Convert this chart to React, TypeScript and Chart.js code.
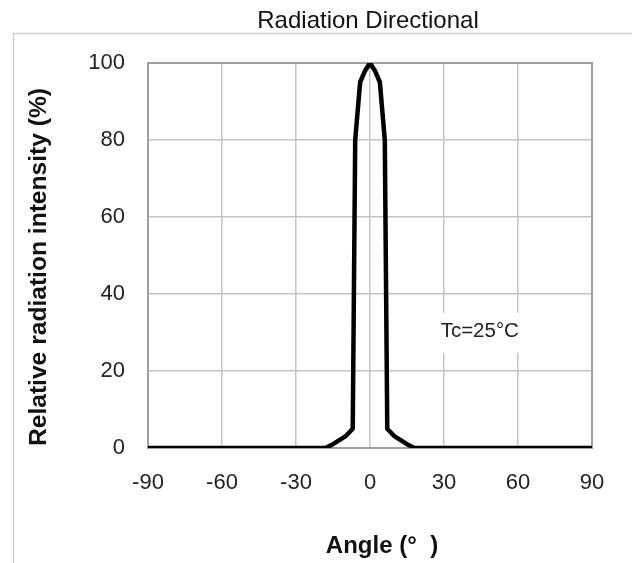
import React, { useEffect, useRef } from "react";
import { Chart, registerables } from "chart.js";

Chart.register(...registerables);

const angles = [-90, -18, -15, -10, -7, -6, -4, -2, 0, 2, 4, 6, 7, 10, 15, 18, 90];
const intensity = [0, 0, 1, 3, 5, 80, 95, 98, 100, 98, 95, 80, 5, 3, 1, 0, 0];
const xTicks = [-90, -60, -30, 0, 30, 60, 90];
const yTicks = [0, 20, 40, 60, 80, 100];
const chartTitle = "Radiation Directional";
const xTitle = "Angle (°  )";
const yTitle = "Relative radiation intensity (%)";
const note = "Tc=25°C";

const FONT = "'Liberation Sans', Arial, sans-serif";

export default function App() {
  const ref = useRef<HTMLCanvasElement>(null);
  useEffect(() => {
    document.body.style.margin = "0";
    const canvas = ref.current!;
    const decor = {
      id: "decor",
      beforeDraw(chart: any) {
        const ctx = chart.ctx;
        ctx.save();
        ctx.fillStyle = "#fff";
        ctx.fillRect(0, 0, chart.width, chart.height);
        ctx.strokeStyle = "#cfcfcf";
        ctx.lineWidth = 1.5;
        ctx.strokeRect(13.5, 33.5, chart.width + 20, chart.height + 20);
        ctx.fillStyle = "#111";
        ctx.font = `24px ${FONT}`;
        ctx.textAlign = "center";
        ctx.textBaseline = "middle";
        ctx.fillText(chartTitle, 368, 21);
        ctx.font = `bold 24px ${FONT}`;
        const xs = chart.scales.x;
        ctx.fillText(xTitle, (xs.left + xs.right) / 2 + 12, 546);
        ctx.translate(39, 267);
        ctx.rotate(-Math.PI / 2);
        ctx.font = `bold 24.6px ${FONT}`;
        ctx.fillText(yTitle, 0, 0);
        ctx.restore();
      },
      afterDatasetsDraw(chart: any) {
        const ctx = chart.ctx;
        const xs = chart.scales.x;
        const ys = chart.scales.y;
        const cx = xs.getPixelForValue(44.5);
        const cy = ys.getPixelForValue(30.2);
        ctx.save();
        ctx.font = `20.5px ${FONT}`;
        const w = ctx.measureText(note).width;
        ctx.fillStyle = "#fff";
        ctx.fillRect(cx - w / 2 - 10, cy - 19, w + 20, 40);
        ctx.fillStyle = "#222";
        ctx.textAlign = "center";
        ctx.textBaseline = "middle";
        ctx.fillText(note, cx, cy);
        ctx.restore();
      },
    };
    const chart = new Chart(canvas, {
      type: "line",
      data: {
        datasets: [
          {
            data: angles.map((a, i) => ({ x: a, y: intensity[i] })),
            borderColor: "#000",
            borderWidth: 4.5,
            pointRadius: 0,
            tension: 0,
            borderJoinStyle: "round",
            borderCapStyle: "round",
            fill: false,
          },
        ],
      },
      options: {
        animation: false,
        responsive: false,
        devicePixelRatio: 1,
        layout: { padding: { top: 63, right: 40, left: 0, bottom: 0 } },
        plugins: { legend: { display: false }, tooltip: { enabled: false } },
        scales: {
          x: {
            type: "linear",
            min: -90,
            max: 90,
            afterBuildTicks: (s: any) => {
              s.ticks = xTicks.map((v) => ({ value: v }));
            },
            afterFit: (s: any) => {
              s.height = 115;
            },
            grid: { color: "#c4c4c4", lineWidth: 1.5, drawTicks: false },
            border: { color: "#a0a0a0", width: 2 },
            ticks: { padding: 22, color: "#222", font: { family: FONT, size: 22 } },
          },
          y: {
            min: 0,
            max: 100,
            afterBuildTicks: (s: any) => {
              s.ticks = yTicks.map((v) => ({ value: v }));
            },
            afterFit: (s: any) => {
              s.width = 148;
            },
            grid: { color: "#c4c4c4", lineWidth: 1.5, drawTicks: false },
            border: { color: "#a0a0a0", width: 2 },
            ticks: { padding: 23, color: "#222", font: { family: FONT, size: 22 } },
          },
        },
      },
      plugins: [
        decor,
        {
          id: "frame",
          beforeDatasetsDraw(chart: any) {
            const { left, right, top, bottom } = chart.chartArea;
            const ctx = chart.ctx;
            ctx.save();
            ctx.strokeStyle = "#a0a0a0";
            ctx.lineWidth = 2;
            ctx.strokeRect(left, top, right - left, bottom - top);
            ctx.restore();
          },
        },
      ],
    } as any);
    return () => chart.destroy();
  }, []);
  return <canvas ref={ref} width={632} height={563} style={{ display: "block" }} />;
}
